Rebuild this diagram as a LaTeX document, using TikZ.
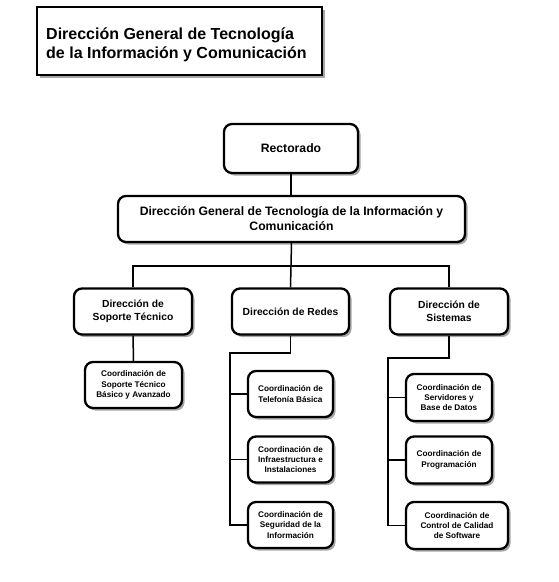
\documentclass[tikz,border=0pt]{standalone}
\usepackage{fontspec}
\setmainfont{Liberation Sans}
\usetikzlibrary{shadows}
\begin{document}
\begin{tikzpicture}[x=1pt,y=-1pt,
  shad/.style={drop shadow={shadow xshift=2.5pt,shadow yshift=-2.5pt,fill=black,opacity=0.35}},
  box/.style={draw=black,line width=2.3pt,rounded corners=8pt,fill=white,shad,align=center,font=\bfseries,inner sep=2pt},
  big/.style={box,font=\fontsize{12.2}{15}\selectfont\bfseries},
  mid/.style={box,font=\fontsize{10.3}{13.5}\selectfont\bfseries},
  small/.style={box,font=\fontsize{8.2}{10.3}\selectfont\bfseries},
  conn/.style={draw=black,line width=1.5pt}]
\useasboundingbox (0,0) rectangle (558,582);
\node[draw=black,line width=2.3pt,fill=white,shad,minimum width=285pt,minimum height=68pt] (title) at (179.5,41) {};
\node[anchor=west,align=left,inner sep=0pt,font=\fontsize{16}{19.5}\selectfont\bfseries] (titletext) at (46,45)
  {Dirección General de Tecnología\\de la Información y Comunicación};
\node[big,minimum width=134pt,minimum height=49pt] (rect) at (291,148.5) {Rectorado};
\node[big,minimum width=347pt,minimum height=46pt] (dg) at (291.5,219) {Dirección General de Tecnología de la Información y\\Comunicación};
\node[mid,minimum width=118pt,minimum height=46pt] (sop) at (133,311.5) {Dirección de\\Soporte Técnico};
\node[mid,minimum width=117pt,minimum height=46pt] (red) at (290.5,311.5) {Dirección de Redes};
\node[mid,minimum width=118pt,minimum height=46pt] (sis) at (449,311.5) {Dirección de\\Sistemas};
\node[small,minimum width=97pt,minimum height=46pt] (csop) at (133.5,385) {Coordinación de\\Soporte Técnico\\Básico y Avanzado};
\node[small,minimum width=85pt,minimum height=46pt] (r1) at (290.5,394) {Coordinación de\\Telefonía Básica};
\node[small,minimum width=85pt,minimum height=46pt] (r2) at (290.5,459.5) {Coordinación de\\Infraestructura e\\Instalaciones};
\node[small,minimum width=85pt,minimum height=46pt] (r3) at (290.5,525) {Coordinación de\\Seguridad de la\\Información};
\node[small,minimum width=86pt,minimum height=47pt] (s1) at (449,397.5) {Coordinación de\\Servidores y\\Base de Datos};
\node[small,minimum width=86pt,minimum height=47pt] (s2) at (449,460) {Coordinación de\\Programación};
\node[small,minimum width=102pt,minimum height=47pt] (s3) at (457,525.5) {Coordinación de\\Control de Calidad\\de Software};
% bus coordinates
\coordinate (bus) at (291,266);
\coordinate (rbus) at (230,353);
\coordinate (sbus) at (388,358);
\draw[conn] (rect.south) -- (rect.south |- dg.north);
\draw[conn] (dg.south) -- (bus);
\draw[conn] (sop.north) |- (bus) -| (sis.north);
\draw[conn] (bus) -- (red.north);
\draw[conn] (sop.south) -- (csop.north);
\draw[conn] (red.south) |- (rbus) |- (r3.west);
\draw[conn] (rbus |- r1.west) -- (r1.west);
\draw[conn] (rbus |- r2.west) -- (r2.west);
\draw[conn] (sis.south) |- (sbus) |- (s3.west);
\draw[conn] (sbus |- s1.west) -- (s1.west);
\draw[conn] (sbus |- s2.west) -- (s2.west);
\end{tikzpicture}
\end{document}
